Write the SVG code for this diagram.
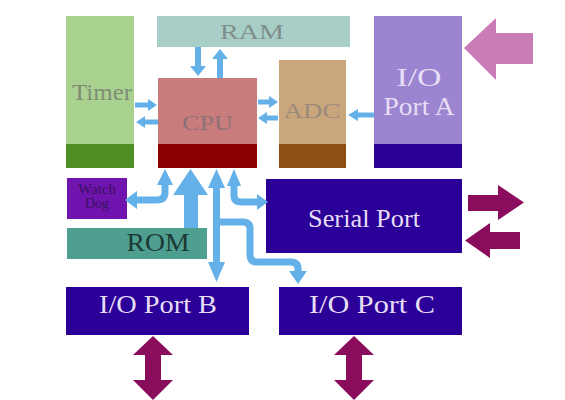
<svg xmlns="http://www.w3.org/2000/svg" width="565" height="400" viewBox="0 0 565 400">
<style>
text{font-family:"Liberation Serif","Times New Roman",serif;text-anchor:middle}
.bus{fill:#64b1ea}
.busl{fill:none;stroke:#64b1ea;stroke-width:7;stroke-linejoin:round}
.ext{fill:#8a0c5c}
.dark{fill:#2b0099}
.lt{fill:#e6def5}
</style>
<rect width="565" height="400" fill="#ffffff"/>
<g id="timer">
<rect x="66" y="16" width="68" height="128" fill="#a9d190"/>
<rect x="66" y="144" width="68" height="24" fill="#4f8f24"/>
<text x="102" y="100" font-size="24" fill="#7f8c74" textLength="60" lengthAdjust="spacingAndGlyphs">Timer</text>
</g>
<g id="ram">
<rect x="157" y="16" width="193" height="31" fill="#a7cfc8"/>
<text x="252" y="39" font-size="22" fill="#7f8e8b" textLength="64" lengthAdjust="spacingAndGlyphs">RAM</text>
</g>
<g id="cpu">
<rect x="158" y="78" width="99" height="66" fill="#c97c7c"/>
<rect x="158" y="144" width="99" height="24" fill="#8a0000"/>
<text x="207.5" y="130" font-size="22" fill="#8c7176" textLength="51" lengthAdjust="spacingAndGlyphs">CPU</text>
</g>
<g id="adc">
<rect x="279" y="60" width="67" height="84" fill="#caa67d"/>
<rect x="279" y="144" width="67" height="24" fill="#8c5012"/>
<text x="312" y="118" font-size="22" fill="#9b8b7a" textLength="57" lengthAdjust="spacingAndGlyphs">ADC</text>
</g>
<g id="port-a">
<rect x="374" y="16" width="88" height="128" fill="#9b85d1"/>
<rect x="374" y="144" width="88" height="24" fill="#2a0097"/>
<text x="419" y="86" font-size="25" class="lt" textLength="45" lengthAdjust="spacingAndGlyphs">I/O</text>
<text x="419" y="115" font-size="25" class="lt" textLength="71" lengthAdjust="spacingAndGlyphs">Port A</text>
</g>
<g id="watchdog">
<rect x="67" y="178" width="60" height="41" fill="#7014b0"/>
<text x="97" y="194" font-size="14" fill="#3a1260" textLength="38" lengthAdjust="spacingAndGlyphs">Watch</text>
<text x="97" y="208" font-size="14" fill="#3a1260">Dog</text>
</g>
<g id="rom">
<rect x="67" y="228" width="140" height="31" fill="#4f9f91"/>
<text x="158" y="251" font-size="25" fill="#1c3a35" textLength="63" lengthAdjust="spacingAndGlyphs">ROM</text>
</g>
<g id="serial-port">
<rect x="266" y="179" width="196" height="74" class="dark"/>
<text x="364" y="227" font-size="25" class="lt" textLength="112" lengthAdjust="spacingAndGlyphs">Serial Port</text>
</g>
<g id="port-b">
<rect x="66" y="287" width="183" height="48" class="dark"/>
<text x="158" y="313" font-size="26" class="lt" textLength="118" lengthAdjust="spacingAndGlyphs">I/O Port B</text>
</g>
<g id="port-c">
<rect x="279" y="287" width="183" height="48" class="dark"/>
<text x="372" y="313" font-size="26" class="lt" textLength="126" lengthAdjust="spacingAndGlyphs">I/O Port C</text>
</g>
<g id="connectors">
<polygon class="bus" points="135,102.5 148,102.5 148,99 157,105 148,111 148,107.5 135,107.5"/>
<polygon class="bus" points="158,119.5 145,119.5 145,116 136,122 145,128 145,124.5 158,124.5"/>
<polygon class="bus" points="195,47 195,66 190,66 198,76 206,66 201,66 201,47"/>
<polygon class="bus" points="217,78 217,59 212,59 220,49 228,59 223,59 223,78"/>
<polygon class="bus" points="258,99.5 269,99.5 269,96 278,102 269,108 269,104.5 258,104.5"/>
<polygon class="bus" points="278,115.5 267,115.5 267,112 258,118 267,124 267,120.5 278,120.5"/>
<polygon class="bus" points="374,112.5 358,112.5 358,109 348,115 358,121 358,117.5 374,117.5"/>
<path class="busl" d="M165,183 V192 Q165,200 157,200 H136"/>
<polygon class="bus" points="157,185 165,169 173,185"/>
<polygon class="bus" points="137,191 125,200 137,209"/>
<polygon class="bus" points="184,228 184,195 173,195 190.5,169 208,195 198,195 198,228"/>
<polygon class="bus" points="213,188 208,188 216.5,169 225,188 220,188 220,262 225,262 216.5,282 208,262 213,262"/>
<path class="busl" d="M234,184 V195 Q234,202 241,202 H258"/>
<polygon class="bus" points="227,186 234,169 241,186"/>
<polygon class="bus" points="257,194 268,202 257,210"/>
<path class="busl" d="M219,222 H243 Q250,222 250,229 V255 Q250,262 257,262 H291 Q298,262 298,269 V273"/>
<polygon class="bus" points="289,271 298,284 307,271"/>
<polygon fill="#c97cb5" points="533,33 496,33 496,18 464,48 496,80 496,64 533,64"/>
<polygon class="ext" points="468,195 498,195 498,185 524,202.5 498,220 498,211 468,211"/>
<polygon class="ext" points="520,232 490,232 490,223 465,240.5 490,258 490,249 520,249"/>
<polygon class="ext" points="145,355 133,355 153,336 173,355 161,355 161,380 173,380 153,400 133,380 145,380"/>
<polygon class="ext" points="346,355 334,355 354,336 374,355 362,355 362,380 374,380 354,400 334,380 346,380"/>
</g>
</svg>
